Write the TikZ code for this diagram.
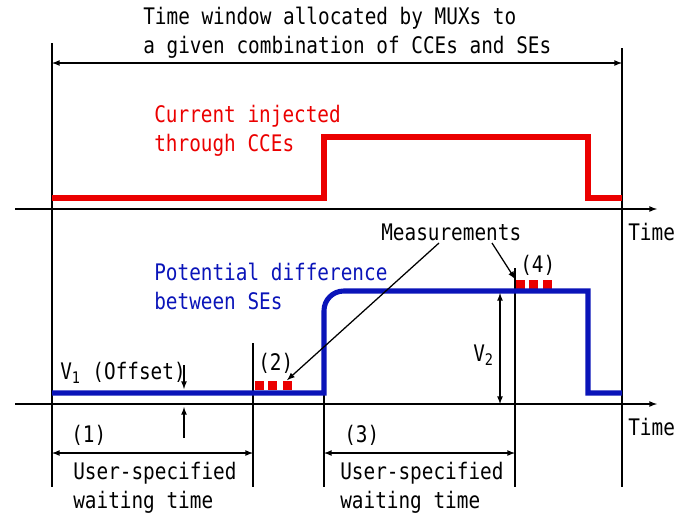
\documentclass[tikz,border=0pt]{standalone}
\usepackage{fontspec}
\setmonofont{DejaVu Sans Mono}[FakeStretch=0.85]
\usetikzlibrary{positioning}
\definecolor{curred}{RGB}{235,0,0}
\definecolor{potblue}{RGB}{10,20,185}

\begin{document}
\begin{tikzpicture}[x=0.025cm, y=-0.025cm, >=latex,
  font=\ttfamily\fontsize{16.2}{20.6}\selectfont,
  lbl/.style={inner sep=0pt, anchor=west, align=left},
  guide/.style={line width=0.9pt},
  sig/.style={line width=3.6pt},
  meas/.style={fill=curred, inner sep=0pt, minimum size=0.225cm}]
\useasboundingbox (0,0) rectangle (688,515);
% Texts
\node [lbl] (title) at (143,32.5) {Time window allocated by MUXs to\\a given combination of CCEs and SEs};
\node [lbl, curred] (cur) at (154,131) {Current injected\\through CCEs};
\node [lbl, potblue] (pot) at (154,286) {Potential difference\\between SEs};
\node [lbl] (msr) at (381,232) {Measurements};
\node [lbl] (time1) at (628,232) {Time};
\node [lbl] (time2) at (628,427) {Time};
\node [lbl] (v1) at (60,373) {V\textsubscript{1} (Offset)};
\node [lbl] (v2) at (473,355) {V\textsubscript{2}};
\node [lbl] (n1) at (71,435) {(1)};
\node [lbl] (n2) at (258,363) {(2)};
\node [lbl] (n3) at (344,435) {(3)};
\node [lbl] (n4) at (520,265) {(4)};
\node [lbl] (wait1) at (73,487.5) {User-specified\\waiting time};
\node [lbl] (wait2) at (340,487.5) {User-specified\\waiting time};
% Measurement marks
\foreach \x [count=\i] in {259,272,287} \node [meas] (ma\i) at (\x,385) {};
\foreach \x [count=\i] in {520,533,547} \node [meas] (mb\i) at (\x,284) {};
% Guide lines
\coordinate (wl) at (52,63);
\coordinate (wr) at (622,63);
\draw [guide] (52,43) -- (52,487);
\draw [guide] (622,48) -- (622,487);
\draw [guide, <->] (wl) -- (wr);
\draw [guide, ->] (15,209) -- (657,209);
\draw [guide, ->] (15,404) -- (657,404);
\draw [guide] (253,343) -- (253,487);
\draw [guide] (324,393) -- (324,487);
\draw [guide] (515,268) -- (515,487);
% Signals
\draw [sig, curred] (52,198) -- (324,198) -- (324,137) -- (588,137) -- (588,198) -- (622,198);
\draw [sig, potblue] (52,393) -- (324,393) [rounded corners=14] -- (324,291) [sharp corners] -- (588,291) -- (588,393) -- (622,393);
% Arrows
\coordinate (a2) at (439,243);
\coordinate (a4) at (492,243);
\draw [guide, ->] (a2) -- (ma3.north);
\draw [guide, ->] (a4) -- (mb1.north west);
\coordinate (v2t) at (500,293);
\coordinate (v2b) at (500,404);
\draw [guide, <->] (v2t) -- (v2b);
\coordinate (v1t) at (184,365);
\coordinate (v1b) at (184,438);
\draw [guide, ->] (v1t) -- (184,389);
\draw [guide, ->] (v1b) -- (184,407);
\draw [guide, <->] (52,453) -- (253,453);
\draw [guide, <->] (324,453) -- (515,453);
\end{tikzpicture}
\end{document}
